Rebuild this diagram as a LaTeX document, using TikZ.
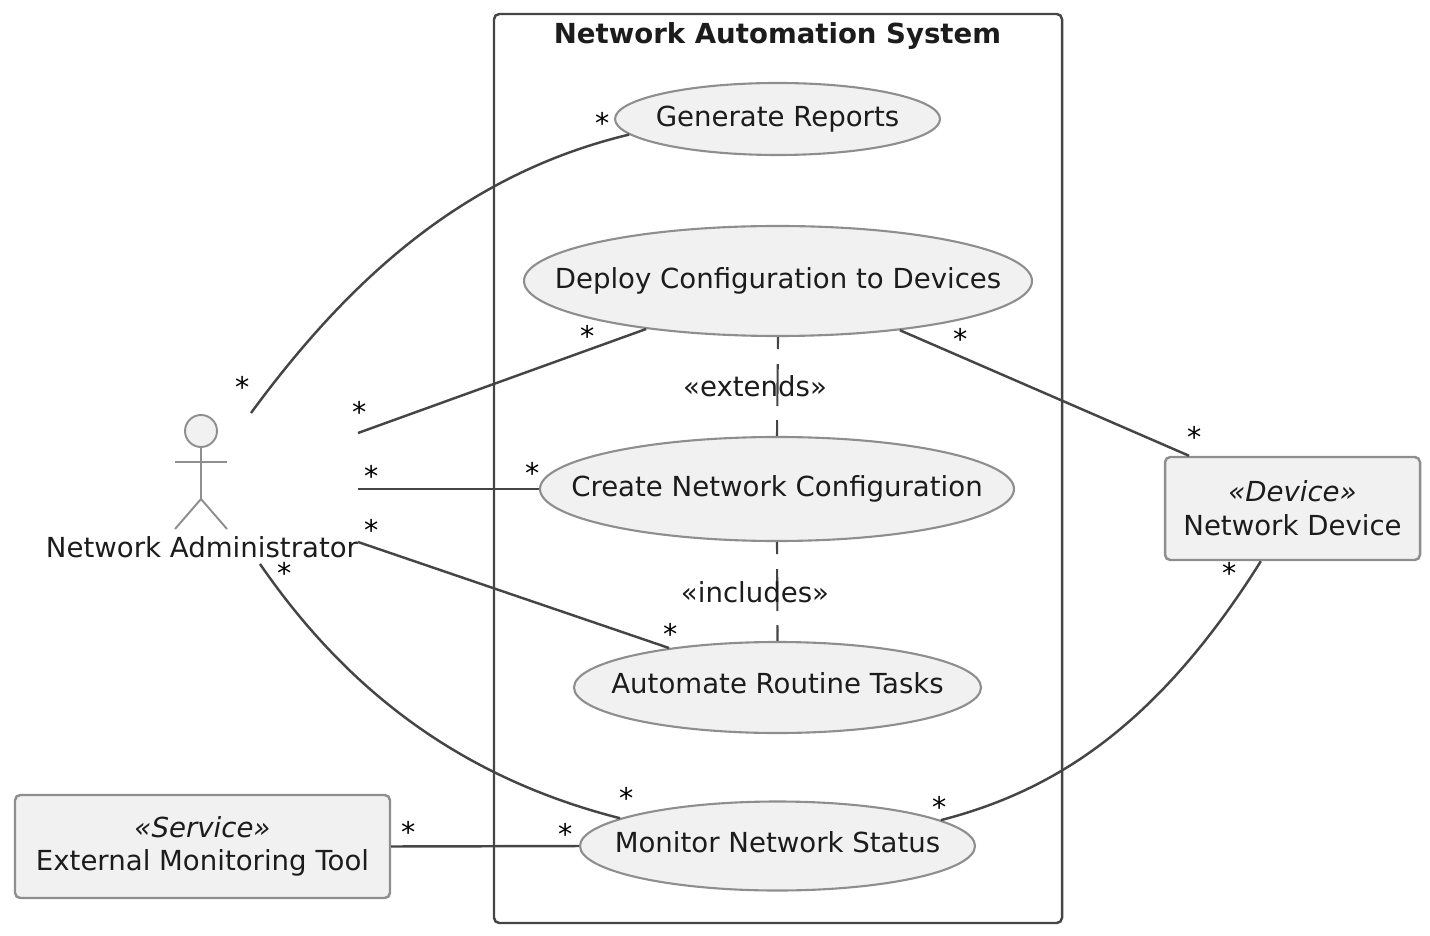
\documentclass[tikz,border=0pt]{standalone}
\usepackage{fontspec}
\setmainfont{DejaVu Sans}
\usepackage{xcolor}
\usetikzlibrary{shapes.geometric, positioning}
\definecolor{umlfill}{HTML}{F1F1F1}
\definecolor{umledge}{HTML}{8E8E8E}
\definecolor{umlline}{HTML}{454545}
\definecolor{umltext}{HTML}{1C1C1C}
\newcommand{\uctext}[2][0.025cm]{\makebox[0pt]{\raisebox{#1}{#2}}}
\tikzset{
  usecase/.style={ellipse, draw=umledge, fill=umlfill, line width=0.6pt, inner sep=0pt, text=umltext, font=\fontsize{7.85}{10}\selectfont},
  thing/.style={rectangle, rounded corners=1.5pt, draw=umledge, fill=umlfill, line width=0.7pt, inner sep=0pt, align=center, text=umltext, font=\fontsize{7.85}{9.6}\selectfont},
  assoc/.style={line width=0.7pt, color=umlline},
  depline/.style={line width=0.6pt, color=umlline, dash pattern=on 0.12cm off 0.15cm on 0.42cm off 0.14cm on 0.16cm off 0.1cm},
  stickman/.style={line width=0.55pt, color=umledge},
  tag/.style={inner sep=0pt, text=umltext, font=\fontsize{7.85}{10}\selectfont},
  mult/.style={inner sep=0pt, xshift=0.02cm, yshift=0.01cm, text=black, font=\fontsize{8.1}{10}\selectfont}
}
\begin{document}
\begin{tikzpicture}
  \useasboundingbox (0,0) rectangle (14.3,9.35);
  \node[rectangle, rounded corners=1.5pt, draw=umlline, line width=0.7pt, minimum width=5.68cm, minimum height=9.09cm] (system) at (7.78,4.665) {};
  \node[tag, font=\fontsize{7.85}{10}\selectfont\bfseries] (title) at (7.775,8.99) {Network Automation System};
  % use cases
  \node[usecase, minimum width=3.25cm, minimum height=0.72cm] (reports) at (7.775,8.16) {\uctext[0.02cm]{Generate Reports}};
  \node[usecase, minimum width=5.08cm, minimum height=1.10cm] (deploy) at (7.78,6.54) {\uctext[0.03cm]{Deploy Configuration to Devices}};
  \node[usecase, minimum width=4.74cm, minimum height=1.04cm] (create) at (7.77,4.46) {\uctext[0.03cm]{Create Network Configuration}};
  \node[usecase, minimum width=4.07cm, minimum height=0.91cm] (automate) at (7.775,2.475) {\uctext[0.08cm]{Automate Routine Tasks}};
  \node[usecase, minimum width=3.95cm, minimum height=0.89cm] (monitor) at (7.775,0.89) {\uctext[0.07cm]{Monitor Network Status}};
  % outside boxes
  \node[thing, minimum width=2.55cm, minimum height=1.03cm] (device) at (12.925,4.265) {\textit{«Device»}\\Network Device};
  \node[thing, minimum width=3.75cm, minimum height=1.03cm] (tool) at (2.025,0.885) {\textit{«Service»}\\External Monitoring Tool};
  % the actor
  \node[circle, draw=umledge, fill=umlfill, line width=0.55pt, inner sep=0pt, minimum size=0.32cm] (head) at (2.01,5.04) {};
  \coordinate (hip) at (2.01,4.36);
  \coordinate (armL) at (1.75,4.73);
  \coordinate (armR) at (2.27,4.73);
  \coordinate (footL) at (1.75,4.06);
  \coordinate (footR) at (2.27,4.06);
  \draw[stickman] (head.south) -- (hip);
  \draw[stickman] (armL) -- (armR);
  \draw[stickman] (footL) -- (hip) -- (footR);
  \node[tag] (actor) at (2.02,3.875) {Network Administrator};
  % free ends near the actor
  \coordinate (endA) at (2.51,5.22);
  \coordinate (endB) at (3.58,5.02);
  \coordinate (endC) at (3.58,4.46);
  \coordinate (endD) at (3.58,3.93);
  \coordinate (endE) at (2.60,3.71);
  %
  \draw[assoc] (endA) .. controls (3.45,6.50) and (4.60,7.60) .. (reports.186.9);
  \draw[assoc] (endB) -- (deploy.200.6);
  \draw[assoc] (endC) -- (create.west);
  \draw[assoc] (endD) -- (automate.160.8);
  \draw[assoc] (endE) .. controls (3.40,2.55) and (4.50,1.60) .. (monitor.170);
  \draw[assoc] (tool.east) -- (monitor.west);
  \draw[assoc] (deploy.338.8) -- (device.153);
  \draw[assoc] (device.239) .. controls (11.55,2.05) and (10.50,1.43) .. (monitor.9.8);
  %
  \draw[depline] (deploy.south) -- (create.north);
  \draw[depline] (create.south) -- (automate.north);
  \node[tag] (extends) at (7.55,5.49) {«extends»};
  \node[tag] (includes) at (7.55,3.43) {«includes»};
  % multiplicities
  \foreach \i/\px/\py in {a/2.41/5.47, b/3.58/5.22, c/3.70/4.58, d/3.70/4.04, e/2.83/3.61, f/6.01/8.11, g/5.86/5.98, h/5.31/4.61, i/6.69/3.00, j/6.25/1.36, k/5.64/1.00, l/4.07/1.02, m/9.59/5.95, n/11.93/4.97, o/12.28/3.61, p/9.38/1.27}
    \node[mult] (star\i) at (\px,\py) {*};
\end{tikzpicture}
\end{document}
